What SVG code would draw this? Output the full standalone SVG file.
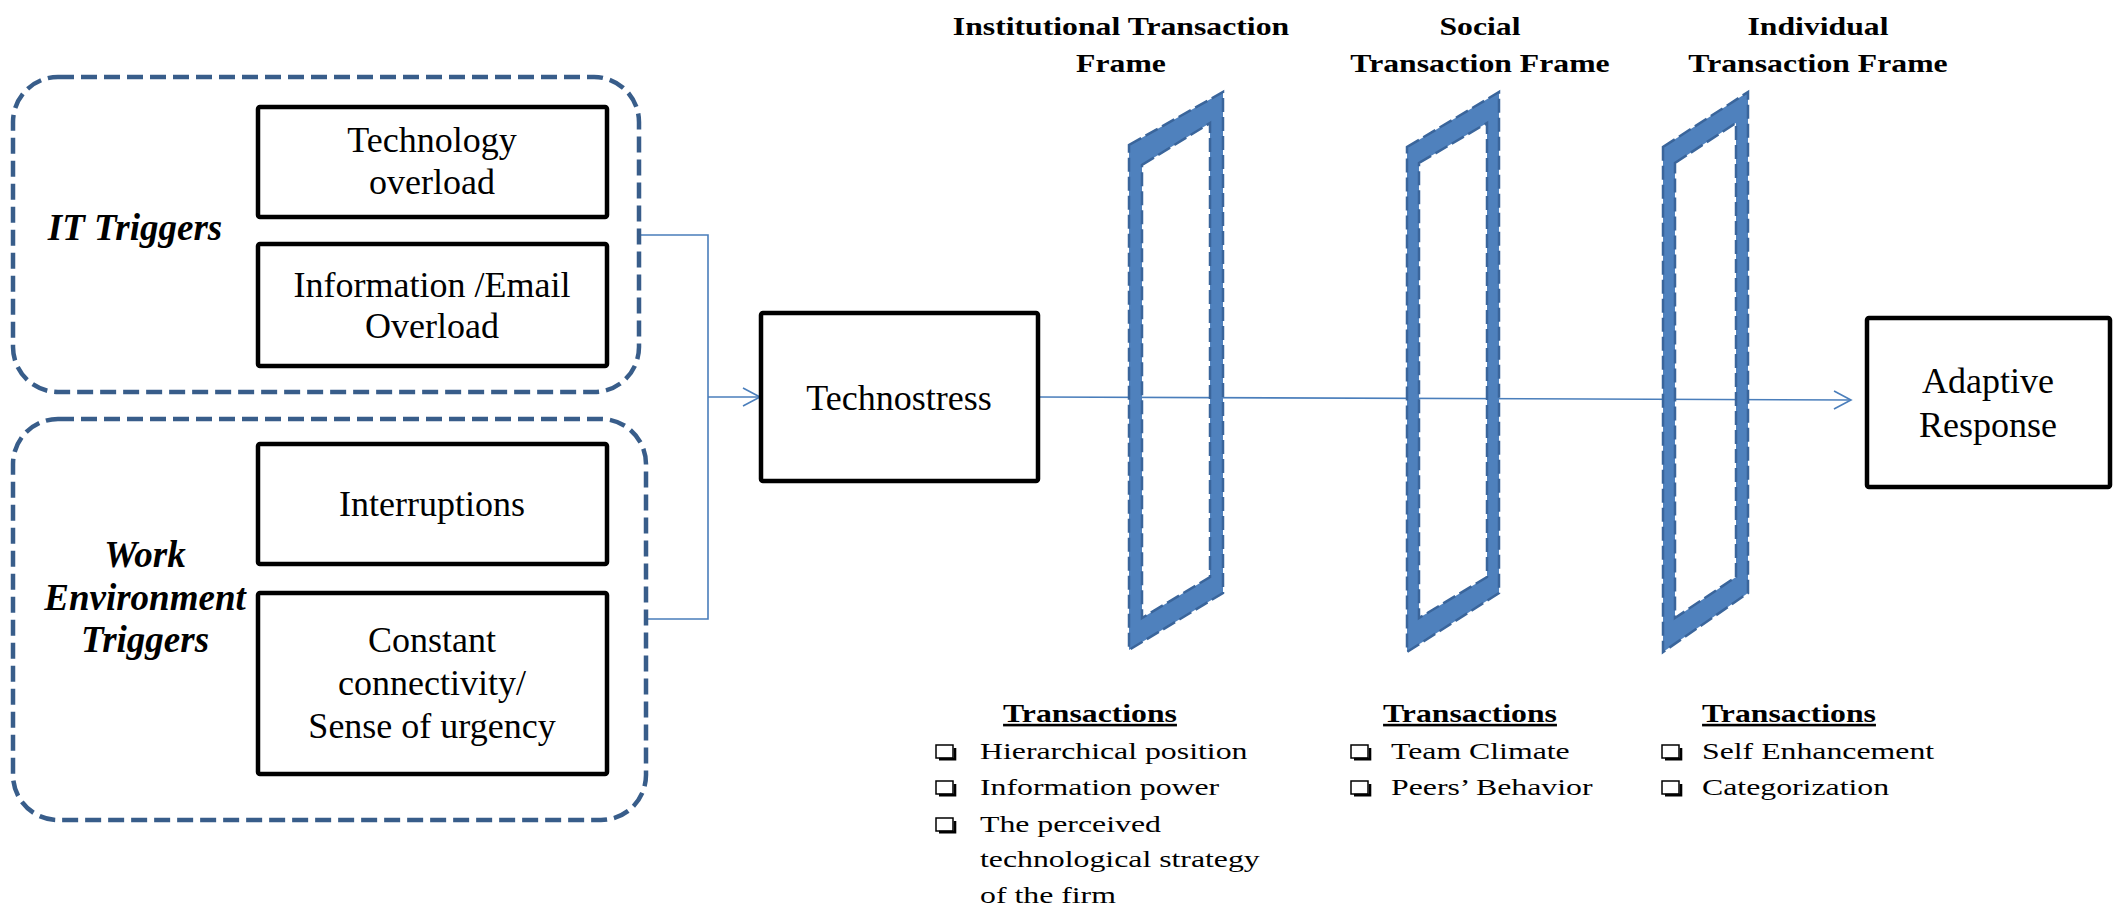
<svg xmlns="http://www.w3.org/2000/svg" xmlns:xlink="http://www.w3.org/1999/xlink" width="2127" height="912" viewBox="0 0 2127 912">
<style>
  .grp { fill: none; stroke: #385D8A; stroke-width: 4.5; stroke-dasharray: 16 7; }
  .box { fill: #FFFFFF; stroke: #000000; stroke-width: 4.5; }
  .t { font-family: "Liberation Serif", "Times New Roman", serif; fill: #000; }
  .bt { font-size: 36px; text-anchor: middle; }
  .lbl { font-size: 37px; font-weight: bold; font-style: italic; text-anchor: middle; }
  .hdr { font-size: 26px; font-weight: bold; text-anchor: middle; }
  .trh { font-size: 26px; font-weight: bold; text-anchor: middle; text-decoration: underline; }
  .itm { font-size: 24px; }
  .con { fill: none; stroke: #4A7EBB; stroke-width: 1.6; }
  .frame { fill: #4F81BD; fill-rule: evenodd; stroke: #3A659B; stroke-width: 2.5; stroke-dasharray: 14 5; }
</style>
<defs>
  <marker id="arr" markerWidth="20" markerHeight="20" refX="18" refY="10" orient="auto" markerUnits="userSpaceOnUse">
    <path d="M1,1 L18,10 L1,19" fill="none" stroke="#4A7EBB" stroke-width="1.6"/>
  </marker>
  <g id="cb">
    <rect x="0" y="-15" width="17" height="13" fill="none" stroke="#000" stroke-width="1.5"/>
    <polyline points="3,-0.9 19,-0.9 19,-12" fill="none" stroke="#000" stroke-width="2.6"/>
  </g>
</defs>
<rect x="0" y="0" width="2127" height="912" fill="#FFFFFF"/>

<g id="connectors">
  <polyline class="con" points="639,235 708,235 708,619 646,619"/>
  <line class="con" x1="708" y1="397" x2="760" y2="397" marker-end="url(#arr)"/>
  <line class="con" x1="1038" y1="397" x2="1851" y2="400" marker-end="url(#arr)"/>
</g>

<g id="it-triggers">
  <rect class="grp" x="13" y="77" width="626" height="315" rx="45" ry="45"/>
  <text class="t lbl" x="135" y="240">IT Triggers</text>
</g>
<g id="technology-overload">
  <rect class="box" x="258" y="107" width="349" height="110" rx="2"/>
  <text class="t bt" x="432" y="152">Technology</text>
  <text class="t bt" x="432" y="194">overload</text>
</g>
<g id="information-overload">
  <rect class="box" x="258" y="244" width="349" height="122" rx="2"/>
  <text class="t bt" x="432" y="297">Information /Email</text>
  <text class="t bt" x="432" y="338">Overload</text>
</g>

<g id="work-environment-triggers">
  <rect class="grp" x="13" y="419" width="633" height="401" rx="45" ry="45"/>
  <text class="t lbl" x="145" y="567">Work</text>
  <text class="t lbl" x="145" y="610">Environment</text>
  <text class="t lbl" x="145" y="652">Triggers</text>
</g>
<g id="interruptions">
  <rect class="box" x="258" y="444" width="349" height="120" rx="2"/>
  <text class="t bt" x="432" y="516">Interruptions</text>
</g>
<g id="constant-connectivity">
  <rect class="box" x="258" y="593" width="349" height="181" rx="2"/>
  <text class="t bt" x="432" y="652">Constant</text>
  <text class="t bt" x="432" y="695">connectivity/</text>
  <text class="t bt" x="432" y="738">Sense of urgency</text>
</g>

<g id="technostress">
  <rect class="box" x="761" y="313" width="277" height="168" rx="2"/>
  <text class="t bt" x="899" y="410">Technostress</text>
</g>

<g id="adaptive-response">
  <rect class="box" x="1867" y="318" width="243" height="169" rx="2"/>
  <text class="t bt" x="1988" y="393">Adaptive</text>
  <text class="t bt" x="1988" y="437">Response</text>
</g>

<g id="institutional-frame">
  <path class="frame" d="M1129,145 L1223,92 L1223,593 L1129,650 Z M1142,165 L1210,123 L1210,577 L1142,618 Z"/>
  <g transform="translate(1121,0) scale(1.22,1)">
    <text class="t hdr" x="0" y="35">Institutional Transaction</text>
    <text class="t hdr" x="0" y="72">Frame</text>
  </g>
  <g transform="translate(1090,0) scale(1.22,1)">
    <text class="t trh" x="0" y="722">Transactions</text>
  </g>
  <use xlink:href="#cb" x="936" y="760"/>
  <use xlink:href="#cb" x="936" y="796"/>
  <use xlink:href="#cb" x="936" y="833"/>
  <g transform="translate(980,0) scale(1.325,1)">
    <text class="t itm" x="0" y="759">Hierarchical position</text>
    <text class="t itm" x="0" y="795">Information power</text>
    <text class="t itm" x="0" y="832">The perceived</text>
    <text class="t itm" x="0" y="867">technological strategy</text>
    <text class="t itm" x="0" y="903">of the firm</text>
  </g>
</g>

<g id="social-frame">
  <path class="frame" d="M1407,147 L1499,92 L1499,593 L1407,652 Z M1419,163 L1487,123 L1487,577 L1419,618 Z"/>
  <g transform="translate(1480,0) scale(1.22,1)">
    <text class="t hdr" x="0" y="35">Social</text>
    <text class="t hdr" x="0" y="72">Transaction Frame</text>
  </g>
  <g transform="translate(1470,0) scale(1.22,1)">
    <text class="t trh" x="0" y="722">Transactions</text>
  </g>
  <use xlink:href="#cb" x="1351" y="760"/>
  <use xlink:href="#cb" x="1351" y="796"/>
  <g transform="translate(1391,0) scale(1.325,1)">
    <text class="t itm" x="0" y="759">Team Climate</text>
    <text class="t itm" x="0" y="795">Peers’ Behavior</text>
  </g>
</g>

<g id="individual-frame">
  <path class="frame" d="M1663,147 L1748,92 L1748,593 L1663,652 Z M1675,163 L1736,123 L1736,577 L1675,618 Z"/>
  <g transform="translate(1818,0) scale(1.22,1)">
    <text class="t hdr" x="0" y="35">Individual</text>
    <text class="t hdr" x="0" y="72">Transaction Frame</text>
  </g>
  <g transform="translate(1789,0) scale(1.22,1)">
    <text class="t trh" x="0" y="722">Transactions</text>
  </g>
  <use xlink:href="#cb" x="1662" y="760"/>
  <use xlink:href="#cb" x="1662" y="796"/>
  <g transform="translate(1702,0) scale(1.325,1)">
    <text class="t itm" x="0" y="759">Self Enhancement</text>
    <text class="t itm" x="0" y="795">Categorization</text>
  </g>
</g>
</svg>
